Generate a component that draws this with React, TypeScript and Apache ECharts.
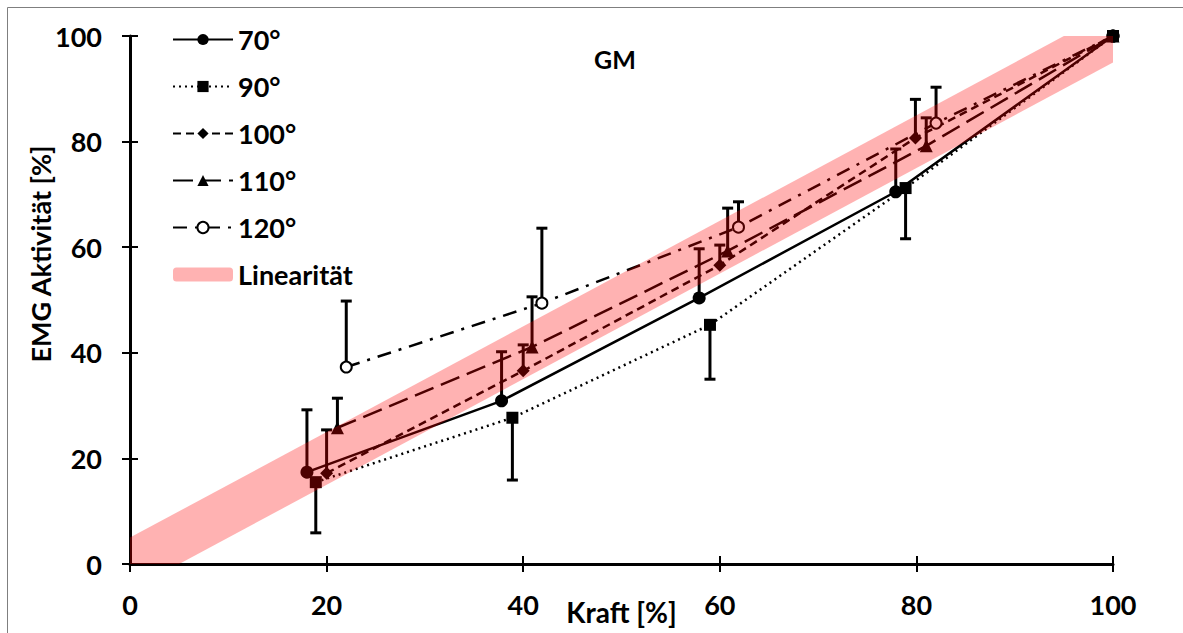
import React, { useEffect, useRef } from "react";
import * as echarts from "echarts";

// ---- data ----
const xTicks = [0, 20, 40, 60, 80, 100];

const s70x = [18, 37.8, 57.9, 77.9, 100];
const s70y = [17.4, 30.9, 50.4, 70.5, 100];
const s70err = [11.8, 9.3, 9.3, 8.1]; // upward

const s90x = [18.9, 38.9, 59.0, 78.9, 100];
const s90y = [15.5, 27.7, 45.3, 71.2, 100];
const s90err = [-9.6, -11.8, -10.3, -9.6]; // downward

const s100x = [20.0, 40.0, 60.0, 79.9, 100];
const s100y = [17.2, 36.6, 56.6, 80.7, 100];
const s100err = [8.2, 4.9, 3.8, 7.3];

const s110x = [21.1, 40.9, 60.8, 81.0, 100];
const s110y = [25.8, 41.1, 59.3, 79.2, 100];
const s110err = [5.6, 9.5, 8.1, 5.3];

const s120x = [22.0, 41.9, 61.9, 82.0, 100];
const s120y = [37.3, 49.4, 63.8, 83.5, 100];
const s120err = [12.5, 14.2, 4.8, 6.8];

const linX = [0, 100];
const linY = [0, 100];
const linTol = 5;

const FONT = "Lato";
const PINK = "rgba(255,0,0,0.3)";

function pts(xs: number[], ys: number[]) {
  return xs.map((x, i) => [x, ys[i]]);
}
function errPts(xs: number[], ys: number[], es: number[]) {
  return es.map((e, i) => [xs[i], ys[i], e]);
}

function errSeries(data: number[][]) {
  return {
    type: "custom",
    z: 3,
    data,
    encode: { x: 0, y: 1 },
    renderItem: (params: any, api: any) => {
      const x = api.value(0);
      const y = api.value(1);
      const e = api.value(2);
      const p0 = api.coord([x, y]);
      const p1 = api.coord([x, y + e]);
      const hw = 5.5;
      return {
        type: "group",
        children: [
          {
            type: "line",
            shape: { x1: p0[0], y1: p0[1], x2: p1[0], y2: p1[1] },
            style: { stroke: "#000", lineWidth: 3 },
          },
          {
            type: "line",
            shape: { x1: p1[0] - hw, y1: p1[1], x2: p1[0] + hw, y2: p1[1] },
            style: { stroke: "#000", lineWidth: 3 },
          },
        ],
      };
    },
  };
}

function lineSeries(name: string, data: number[][], symbol: string, size: number, dash: any, z = 4, width = 2.5) {
  return {
    name,
    type: "line",
    data,
    symbol,
    symbolSize: size,
    z,
    lineStyle: { color: "#000", width, type: dash },
    itemStyle: { color: "#000", borderWidth: symbol === "emptyCircle" ? 2 : 0, borderColor: "#000" },
  };
}

export default function App() {
  const ref = useRef<HTMLDivElement>(null);
  useEffect(() => {
    if (!ref.current) return;
    const chart = echarts.init(ref.current, undefined, { renderer: "svg" });
    const axisLabel = { fontFamily: FONT, fontWeight: "bold", fontSize: 27, color: "#000" };
    const option: any = {
      animation: false,
      backgroundColor: "#fff",
      title: {
        text: "GM",
        left: 589,
        top: 41,
        textStyle: { fontFamily: FONT, fontWeight: "bold", fontSize: 25, color: "#000" },
      },
      graphic: [
        {
          type: "rect",
          shape: { x: 7.5, y: 7.5, width: 1190, height: 640 },
          style: { fill: "none", stroke: "#7f7f7f", lineWidth: 1 },
          silent: true,
        },
      ],
      grid: { left: 130, right: 70, top: 36, bottom: 69, outerBoundsMode: "none", containLabel: false },
      legend: {
        orient: "vertical",
        left: 167,
        top: 21,
        itemWidth: 60,
        itemHeight: 14,
        itemGap: 20,
        textStyle: { fontFamily: FONT, fontWeight: "bold", fontSize: 27, color: "#000", lineHeight: 26.5 },
        data: [
          { name: "70°" },
          { name: "90°" },
          { name: "100°" },
          { name: "110°" },
          { name: "120°" },
          { name: "Linearität", icon: "roundRect", itemStyle: { color: PINK } },
        ],
      },
      xAxis: [
        {
          type: "value",
          min: 0,
          max: 100,
          interval: 20,
          position: "bottom",
          name: "Kraft [%]",
          nameLocation: "middle",
          nameGap: 34,
          nameMoveOverlap: false,
          nameTextStyle: { fontFamily: FONT, fontWeight: "bold", fontSize: 28, color: "#000" },
          axisLine: { show: true, onZero: false, lineStyle: { color: "#000", width: 3 } },
          axisTick: { show: true, length: 8, lineStyle: { color: "#000", width: 2 } },
          axisLabel: { ...axisLabel, margin: 27 },
          splitLine: { show: false },
        },
        {
          type: "value",
          min: 0,
          max: 100,
          interval: 20,
          position: "bottom",
          axisLine: { show: false },
          axisTick: { show: true, inside: true, length: 8, lineStyle: { color: "#000", width: 2 } },
          axisLabel: { show: false },
          splitLine: { show: false },
        },
      ],
      yAxis: [
        {
          type: "value",
          min: 0,
          max: 100,
          interval: 20,
          position: "left",
          name: "EMG Aktivität [%]",
          nameLocation: "middle",
          nameGap: 76,
          nameMoveOverlap: false,
          nameTextStyle: {
            fontFamily: FONT,
            fontWeight: "bold",
            fontSize: 27,
            color: "#000",
            padding: [0, 0, 0, 92],
          },
          axisLine: { show: true, onZero: false, lineStyle: { color: "#000", width: 3 } },
          axisTick: { show: true, length: 8, lineStyle: { color: "#000", width: 2 } },
          axisLabel: { ...axisLabel, margin: 28 },
          splitLine: { show: false },
        },
        {
          type: "value",
          min: 0,
          max: 100,
          interval: 20,
          position: "left",
          axisLine: { show: false },
          axisTick: { show: true, inside: true, length: 8, lineStyle: { color: "#000", width: 2 } },
          axisLabel: { show: false },
          splitLine: { show: false },
        },
      ],
      series: [
        lineSeries("70°", pts(s70x, s70y), "circle", 13, "solid", 4),
        lineSeries("90°", pts(s90x, s90y), "rect", 12, [2, 4], 6),
        lineSeries("100°", pts(s100x, s100y), "diamond", 13, [8, 5], 4),
        lineSeries("110°", pts(s110x, s110y), "triangle", 13, [20, 8], 4),
        lineSeries("120°", pts(s120x, s120y), "emptyCircle", 11, [14, 8, 3, 8], 4),
        errSeries(errPts(s70x, s70y, s70err)),
        errSeries(errPts(s90x, s90y, s90err)),
        errSeries(errPts(s100x, s100y, s100err)),
        errSeries(errPts(s110x, s110y, s110err)),
        errSeries(errPts(s120x, s120y, s120err)),
        {
          name: "Linearität",
          type: "custom",
          z: 10,
          clip: true,
          itemStyle: { color: PINK },
          data: [[linX[0], linY[0]]],
          encode: { x: 0, y: 1 },
          renderItem: (params: any, api: any) => {
            const a = api.coord([linX[0], linY[0] - linTol]);
            const b = api.coord([linX[0], linY[0] + linTol]);
            const c = api.coord([linX[1], linY[1] + linTol]);
            const d = api.coord([linX[1], linY[1] - linTol]);
            return {
              type: "polygon",
              shape: { points: [a, b, c, d] },
              style: { fill: PINK },
            };
          },
        },
      ],
    };
    chart.setOption(option);
    return () => chart.dispose();
  }, []);
  return (
    <div
      ref={ref}
      style={{ position: "absolute", left: 0, top: 0, width: 1183, height: 633 }}
    />
  );
}
